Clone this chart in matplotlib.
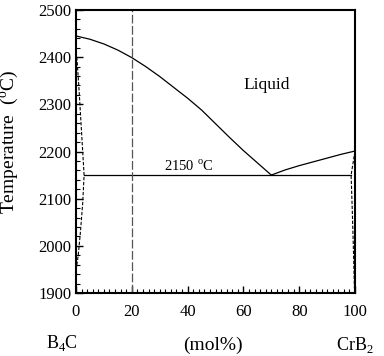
import matplotlib
matplotlib.use("Agg")
import matplotlib.pyplot as plt
from matplotlib.ticker import MultipleLocator

plt.rcParams['font.family'] = ['Liberation Serif', 'DejaVu Serif']
plt.rcParams['mathtext.fontset'] = 'custom'
plt.rcParams['mathtext.rm'] = 'Liberation Serif'

# Liquidus (B4C side)
liq_left_x = [0, 5, 10, 15, 20, 25, 30, 35, 40, 45, 50, 55, 60, 65, 70]
liq_left_t = [2445, 2438, 2428, 2415, 2399, 2380, 2359, 2336, 2313, 2288,
              2259, 2230, 2202, 2176, 2150]
# Liquidus (CrB2 side)
liq_right_x = [70, 75, 80, 85, 90, 95, 100]
liq_right_t = [2150, 2161, 2170, 2178, 2186, 2194, 2201]
# Eutectic line
eut_x = [2.9, 98.6]
eut_t = [2150, 2150]
# Solid solubility boundaries (dashed)
sol_left_x = [0.3, 1.0, 2.0, 2.9, 2.4, 1.6, 0.8, 0.2]
sol_left_t = [2400, 2340, 2240, 2150, 2090, 2030, 1980, 1955]
sol_right_x = [100, 98.6, 99.0, 99.4, 99.8]
sol_right_t = [2201, 2150, 2080, 2000, 1910]
# Composition of interest
comp_x = [20, 20]
comp_t = [1900, 2500]

fig = plt.figure(figsize=(3.84, 3.56), dpi=100)
ax = fig.add_axes([76/384, 1 - 293/356, (355-76)/384, (293-10)/356])

ax.plot(liq_left_x, liq_left_t, color='black', lw=0.9)
ax.plot(liq_right_x, liq_right_t, color='black', lw=0.9)
ax.plot(eut_x, eut_t, color='black', lw=0.9)
ax.plot(sol_left_x, sol_left_t, color='black', lw=0.8, ls=(0, (3, 1.5)))
ax.plot(sol_right_x, sol_right_t, color='black', lw=0.8, ls=(0, (3, 1.5)))
ax.plot(comp_x, comp_t, color='#555555', lw=0.9, ls=(0, (7, 2)))

ax.set_xlim(0, 100)
ax.set_ylim(1900, 2500)
ax.xaxis.set_major_locator(MultipleLocator(20))
ax.xaxis.set_minor_locator(MultipleLocator(2))
ax.yaxis.set_major_locator(MultipleLocator(100))
ax.yaxis.set_minor_locator(MultipleLocator(20))
ax.tick_params(which='both', direction='in', top=False, right=False, labelsize=12)
ax.tick_params(which='major', length=5, width=1)
ax.tick_params(which='minor', length=3, width=0.8)
ax.tick_params(axis='x', pad=8)
for s in ax.spines.values():
    s.set_linewidth(1.5)

ax.text(60, 2340, 'Liquid', fontsize=12.5, ha='left', va='center')
ax.text(40.5, 2153, r'2150 $^{\rm o}$C', fontsize=10.5, ha='center', va='bottom')

fig.text(10/384, 1 - 141.5/356, r'Temperature  ($^{\rm o}$C)', fontsize=14,
         rotation=90, ha='center', va='center')

fig.text(62/384, 1 - 343/356, r'B$_4$C', fontsize=13, ha='center', va='center')
fig.text(213/384, 1 - 345/356, '(mol%)', fontsize=14, ha='center', va='center')
fig.text(355/384, 1 - 345/356, r'CrB$_2$', fontsize=13, ha='center', va='center')

fig.savefig('out.png', dpi=100)
